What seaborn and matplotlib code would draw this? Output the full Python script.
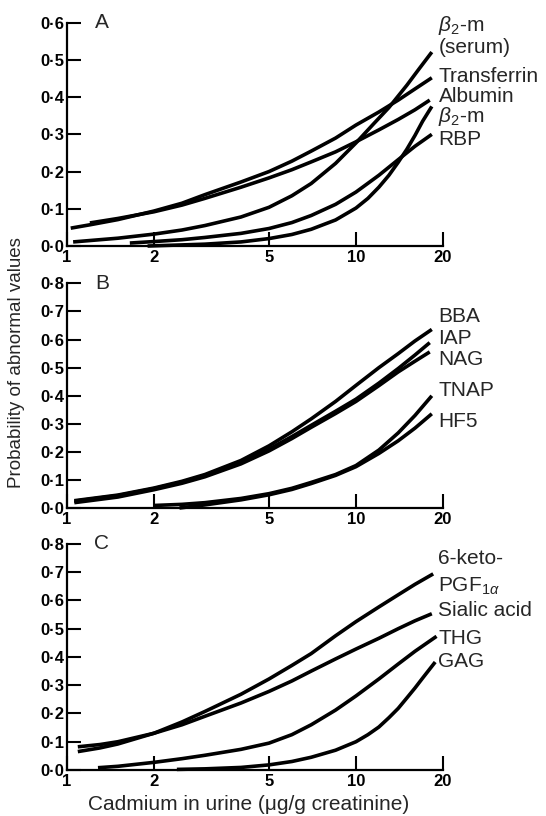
import matplotlib
matplotlib.use('Agg')

import matplotlib.pyplot as plt
import seaborn as sns
import pandas as pd

# x = cadmium in urine (ug/g creatinine), y = probability of abnormal values
# panel A
transferrin_x = [1.03, 1.2, 1.5, 2, 2.5, 3, 4, 5, 6, 7, 8.5, 10, 12, 14, 16, 18.3]
transferrin_y = [0.048, 0.057, 0.071, 0.094, 0.115, 0.138, 0.172, 0.200, 0.228,
                 0.255, 0.290, 0.325, 0.360, 0.392, 0.422, 0.452]
albumin_x = [1.2, 1.5, 2, 2.5, 3, 4, 5, 6, 7, 8.5, 10, 12, 14, 16, 18.0]
albumin_y = [0.062, 0.074, 0.092, 0.110, 0.128, 0.158, 0.183, 0.205, 0.226,
             0.253, 0.280, 0.312, 0.340, 0.366, 0.392]
b2m_serum_x = [1.05, 1.5, 2, 2.5, 3, 4, 5, 6, 7, 8.5, 10, 11.5, 13, 15, 16.5, 18.3]
b2m_serum_y = [0.011, 0.021, 0.032, 0.043, 0.055, 0.078, 0.104, 0.135, 0.168,
               0.222, 0.277, 0.328, 0.372, 0.432, 0.475, 0.521]
rbp_x = [1.65, 2, 2.5, 3, 4, 5, 6, 7, 8.5, 10, 12, 14, 16, 18.3]
rbp_y = [0.008, 0.012, 0.017, 0.023, 0.034, 0.047, 0.063, 0.082, 0.112, 0.145,
         0.190, 0.232, 0.268, 0.300]
b2m_x = [1.9, 2.5, 3, 4, 5, 6, 7, 8.5, 10, 11, 12, 13, 14, 15, 16, 17, 18.3]
b2m_y = [0.000, 0.003, 0.005, 0.011, 0.020, 0.031, 0.045, 0.070, 0.102, 0.128,
         0.158, 0.190, 0.225, 0.260, 0.297, 0.335, 0.375]

# panel B
bba_x = [1.06, 1.5, 2, 2.5, 3, 4, 5, 6, 7, 8.5, 10, 12, 14, 16, 18.3]
bba_y = [0.027, 0.047, 0.072, 0.096, 0.120, 0.170, 0.222, 0.272, 0.318, 0.380,
         0.437, 0.500, 0.550, 0.595, 0.636]
iap_x = [1.06, 1.5, 2, 2.5, 3, 4, 5, 6, 7, 8.5, 10, 12, 14, 16, 18.0]
iap_y = [0.025, 0.045, 0.070, 0.093, 0.116, 0.163, 0.210, 0.255, 0.295, 0.345,
         0.388, 0.445, 0.497, 0.545, 0.589]
nag_x = [1.06, 1.5, 2, 2.5, 3, 4, 5, 6, 7, 8.5, 10, 12, 14, 16, 18.0]
nag_y = [0.020, 0.040, 0.066, 0.089, 0.112, 0.158, 0.204, 0.248, 0.288, 0.337,
         0.380, 0.436, 0.485, 0.523, 0.556]
tnap_x = [2.0, 2.5, 3, 4, 5, 6, 7, 8.5, 10, 12, 14, 16, 18.3]
tnap_y = [0.010, 0.014, 0.020, 0.035, 0.052, 0.071, 0.092, 0.120, 0.152, 0.207,
          0.268, 0.330, 0.400]
hf5_x = [2.45, 3, 4, 5, 6, 7, 8.5, 10, 12, 14, 16, 18.3]
hf5_y = [0.001, 0.012, 0.030, 0.048, 0.067, 0.088, 0.117, 0.148, 0.195, 0.240,
         0.285, 0.336]

# panel C
keto_x = [1.09, 1.3, 1.5, 2, 2.5, 3, 4, 5, 6, 7, 8.5, 10, 12, 14, 16, 18.5]
keto_y = [0.065, 0.078, 0.092, 0.130, 0.170, 0.207, 0.268, 0.322, 0.370, 0.412,
          0.475, 0.525, 0.577, 0.620, 0.657, 0.694]
sialic_x = [1.09, 1.3, 1.5, 2, 2.5, 3, 4, 5, 6, 7, 8.5, 10, 12, 14, 16, 18.3]
sialic_y = [0.082, 0.090, 0.100, 0.130, 0.160, 0.190, 0.237, 0.278, 0.315, 0.350,
            0.393, 0.428, 0.466, 0.500, 0.528, 0.553]
thg_x = [1.28, 1.5, 2, 2.5, 3, 4, 5, 6, 7, 8.5, 10, 12, 14, 16, 19.0]
thg_y = [0.008, 0.013, 0.027, 0.040, 0.052, 0.073, 0.095, 0.125, 0.160, 0.212,
         0.262, 0.322, 0.375, 0.420, 0.473]
gag_x = [2.4, 3, 4, 5, 6, 7, 8.5, 10, 11, 12, 13, 14, 15, 16, 17, 18.8]
gag_y = [0.002, 0.004, 0.009, 0.018, 0.030, 0.045, 0.070, 0.100, 0.125, 0.152,
         0.185, 0.218, 0.255, 0.290, 0.325, 0.382]

panels = [
    ('A', 0.6, [(transferrin_x, transferrin_y), (albumin_x, albumin_y),
                (b2m_serum_x, b2m_serum_y), (rbp_x, rbp_y), (b2m_x, b2m_y)],
     [(r'$\beta_2$-m', 0.592), ('(serum)', 0.532), ('Transferrin', 0.455),
      ('Albumin', 0.401), (r'$\beta_2$-m', 0.347), ('RBP', 0.285)]),
    ('B', 0.8, [(bba_x, bba_y), (iap_x, iap_y), (nag_x, nag_y),
                (tnap_x, tnap_y), (hf5_x, hf5_y)],
     [('BBA', 0.681), ('IAP', 0.604), ('NAG', 0.529), ('TNAP', 0.418),
      ('HF5', 0.308)]),
    ('C', 0.8, [(keto_x, keto_y), (sialic_x, sialic_y), (thg_x, thg_y),
                (gag_x, gag_y)],
     [('6-keto-', 0.747), (r'PGF$_{1\alpha}$', 0.650), ('Sialic acid', 0.566),
      ('THG', 0.467), ('GAG', 0.384)]),
]

x_ticks = [1, 2, 5, 10, 20]

sns.set_style('ticks')
plt.rcParams['font.family'] = ['Liberation Sans', 'DejaVu Sans']
plt.rcParams['mathtext.fontset'] = 'custom'
plt.rcParams['mathtext.rm'] = 'Liberation Sans'
plt.rcParams['mathtext.it'] = 'Liberation Sans:italic'
plt.rcParams['mathtext.bf'] = 'Liberation Sans:bold'

fig = plt.figure(figsize=(5.46, 8.16), dpi=100)
rects = [[0.1227, 0.6985, 0.6886, 0.2737],
         [0.1227, 0.3771, 0.6886, 0.2757],
         [0.1227, 0.0564, 0.6886, 0.2770]]

for rect, (letter, top, curves, labels) in zip(rects, panels):
    ax = fig.add_axes(rect)
    for cx, cy in curves:
        df = pd.DataFrame({'x': cx, 'y': cy})
        sns.lineplot(data=df, x='x', y='y', ax=ax, color='black', lw=2.6,
                     estimator=None, sort=False, clip_on=False,
                     solid_capstyle='butt', solid_joinstyle='round')
    ax.set_xscale('log')
    ax.set_xlim(1, 20)
    ax.set_ylim(0, top)
    ax.set_xticks(x_ticks)
    ax.set_xticklabels([str(t) for t in x_ticks], fontweight='bold')
    ax.xaxis.set_minor_locator(matplotlib.ticker.NullLocator())
    yt = [i / 10 for i in range(int(round(top * 10)) + 1)]
    ax.set_yticks(yt)
    ax.set_yticklabels([f'{v:.1f}'.replace('.', '\u00b7') for v in yt],
                       fontweight='bold')
    ax.tick_params(direction='in', length=10, width=1.5, labelsize=12,
                   pad=2, colors='black')
    ax.tick_params(axis='x', pad=3)
    for s in ['top', 'right']:
        ax.spines[s].set_visible(False)
    for s in ['left', 'bottom']:
        ax.spines[s].set_linewidth(1.6)
        ax.spines[s].set_color('black')
    ax.set_xlabel('')
    ax.set_ylabel('')
    ax.text(0.093, 1.0, letter, transform=ax.transAxes, fontsize=15,
            ha='center', va='center')
    for txt, yy in labels:
        ax.text(19.3, yy, txt, fontsize=15, ha='left', va='center',
                clip_on=False)

fig.text(0.031, 0.556, 'Probability of abnormal values', rotation=90,
         fontsize=13.5, ha='center', va='center')
fig.text(0.456, 0.0147, 'Cadmium in urine (\u03bcg/g creatinine)',
         fontsize=15, ha='center', va='center')

fig.savefig('out.png', dpi=100)
plt.close(fig)
